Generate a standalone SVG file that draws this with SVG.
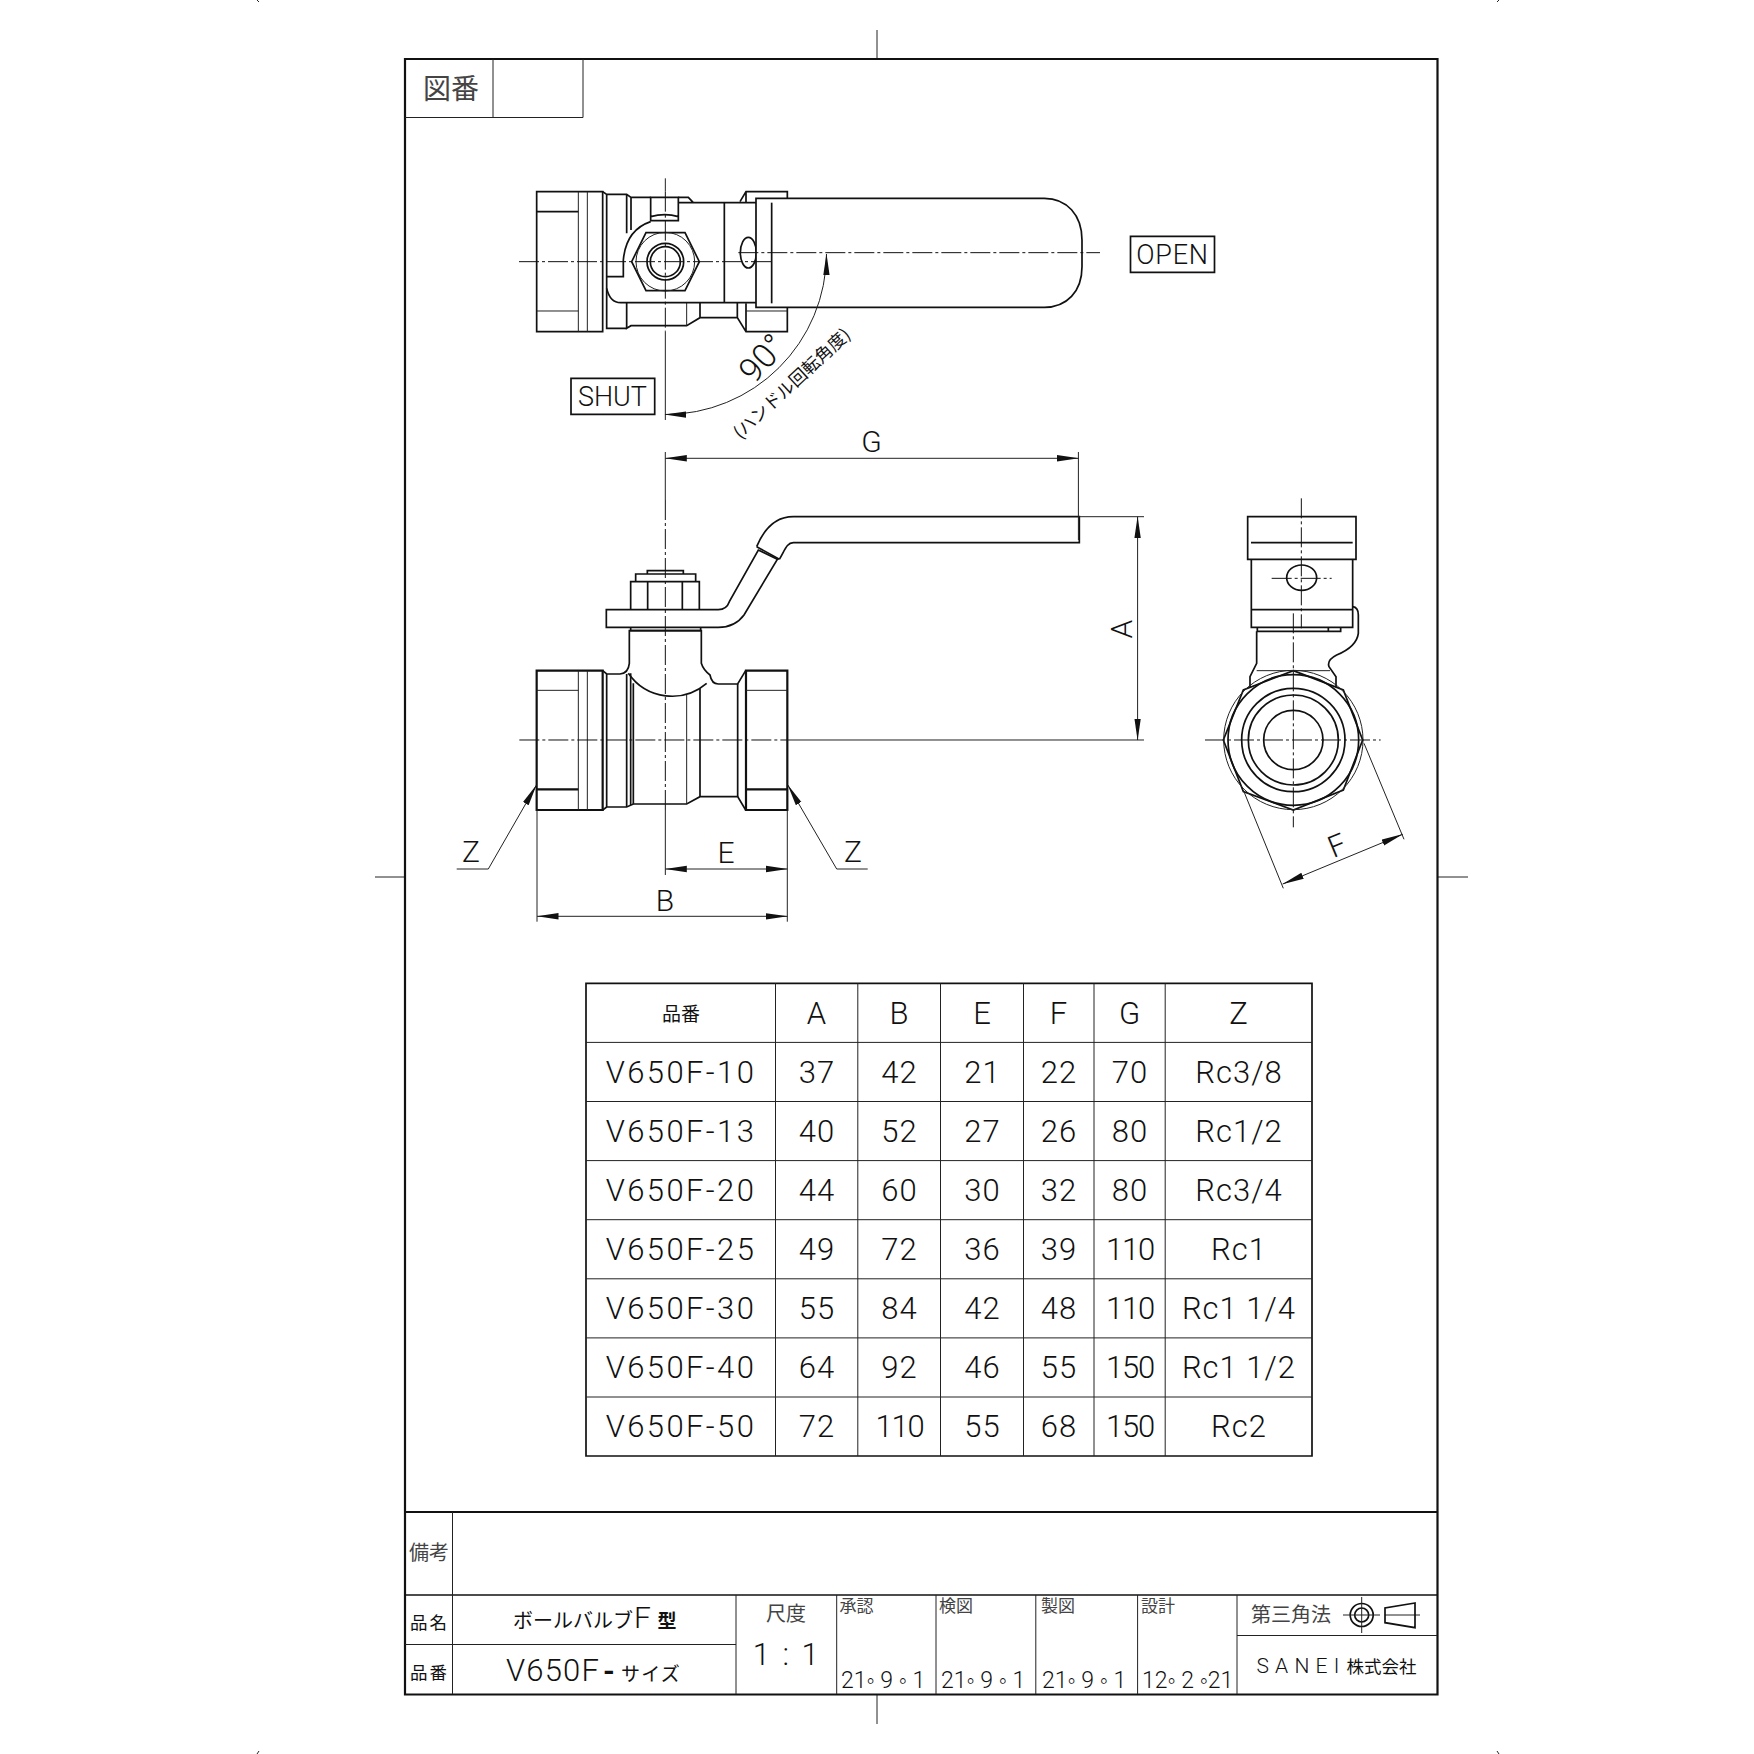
<svg xmlns="http://www.w3.org/2000/svg" width="1754" height="1754" viewBox="0 0 1754 1754">
<style>
.k{fill:none;stroke:#111;stroke-width:1.700;vector-effect:non-scaling-stroke}
.h{fill:none;stroke:#111;stroke-width:2.200;vector-effect:non-scaling-stroke}
.t{fill:none;stroke:#222;stroke-width:1;vector-effect:non-scaling-stroke}
.c{fill:none;stroke:#111;stroke-width:1;stroke-dasharray:20 3 3 3;vector-effect:non-scaling-stroke}
.w{fill:#fff}
.d{fill:none;stroke:#222;stroke-width:1;marker-start:url(#ar);marker-end:url(#ar)}
.e{fill:none;stroke:#222;stroke-width:1;marker-start:url(#ar)}
text{font-family:"Roboto","Liberation Sans","Noto Sans CJK JP",sans-serif;font-weight:300;fill:#111;text-anchor:middle}
.tb{font-size:31px;letter-spacing:1px}
.pn{letter-spacing:2.400px}
.nr{letter-spacing:-1.200px}
.lb{font-size:30px}
.jp{font-family:"Noto Sans CJK JP",sans-serif;font-weight:400}
.li{fill:#444}
.dt{font-size:23px;text-anchor:start}
.st{text-anchor:start}
</style>
<defs>
<marker id="ar" markerUnits="userSpaceOnUse" markerWidth="22" markerHeight="8" refX="21.5" refY="4" orient="auto-start-reverse" viewBox="0 0 22 8"><path d="M0 0.800L22 4L0 7.200Z" fill="#111"/></marker>
</defs>
<rect width="1754" height="1754" fill="#fff"/>
<g id="sheet">
<path class="t" d="M877 30V59M877 1695V1724M375 877H405M1437 877H1468"/>
<path class="t" d="M257 0L259 2M1497 2L1499 0M257 1754L259 1751M1497 1751L1499 1754"/>
<rect class="h" x="405" y="59" width="1032.500" height="1635.500"/>
<path class="t" d="M405 117.500H583V59M493 59V117.500"/>
<text class="jp li" x="451" y="99" font-size="28">図番</text>
</g>
<g id="top-view" transform="translate(530,180) scale(.33333)">
<path class="k" d="M20 35H218V455H20ZM20 95H145"/>
<path class="t" d="M20 393H145M145 35V455M172 35V455"/>
<path class="k" d="M218 35L230 43H290L303 52H362M230 43V445H290M290 43V160M303 52V150"/>
<path class="k" d="M290 368V445L303 437H470L510 413H622L648 455H772V380M648 370V455M510 368V413M622 368V413"/>
<path class="t" d="M470 368V437M648 393H772"/>
<path class="k" d="M630 65L648 35H772V55M648 35V68"/>
<path class="k" d="M230 290H280V240Q288 150 362 125"/>
<path class="k" d="M230 325Q240 368 272 368H678M445 68H678M445 52H475L490 68"/>
<path class="k" d="M362 52H445V122H362ZM362 110Q405 98 445 110"/>
<path class="k" d="M583 68V368"/>
<path class="k" d="M348 158H465L508 245L465 332H348L305 245Z"/>
<circle class="t" cx="406" cy="245" r="88"/>
<circle class="k" cx="406" cy="245" r="55"/>
<circle class="k" cx="406" cy="245" r="45"/>
<ellipse class="k" cx="655" cy="218" rx="24" ry="46"/>
<path class="k w" d="M678 55H1543C1610 55 1656 105 1656 180V260C1656 335 1610 382 1543 382H678Z"/>
<path class="k" d="M725 68V370"/>
<path class="t" d="M406 -5V35M406 455V720"/>
<path class="c" d="M406 35V455"/>
<path class="c" d="M-33 245H730"/>
<path class="c" d="M625 218H1710"/>
</g>
<g id="front-view" transform="translate(440,500) scale(.33333)">
<path class="h" d="M290 512H488V930H290ZM918 512H1042V930H918Z"/>
<path class="h" d="M290 868H415M918 868H1042"/>
<path class="t" d="M290 571H415M918 571H1042M415 512V930M442 512V930"/>
<path class="k" d="M488 512L500 522H540Q565 520 568 490V392H784V490Q790 510 810 525Q815 552 835 552H893L917 512"/>
<path class="k" d="M488 930L500 921H560L580 912H740L780 890H893L917 930"/>
<path class="k" d="M500 522V921M560 522V921M572 520V915M580 550V912M780 565V890M893 552V890"/>
<path class="t" d="M740 585V912"/>
<path class="k" d="M565 520C620 600 730 610 800 550"/>
<path class="k" d="M572 382V392H782V382"/>
<path class="k w" d="M835 329Q860 328 868 305L955 150L1012 178L912 345Q885 382 835 382H499V329Z"/>
<path class="k" d="M950 140L1018 178"/>
<path class="k" d="M950 140C975 80 1010 50 1060 50H1918V128H1060C1040 128 1035 150 1018 178"/>
<path class="k" d="M572 329V245H778V329M623 245V329M727 245V329M587 245V222H767V245M622 222V212H730V222"/>
<path class="c" d="M676 0V930"/>
<path class="t" d="M676 930V1125"/>
<path class="c" d="M238 720H1042"/>
<path class="t" d="M1042 720H2112"/>
</g>
<g id="side-view" transform="translate(1180,490) scale(.33333)">
<path class="k" d="M203 80H528V208H203Z"/>
<path class="k" d="M213 158H518"/>
<path class="k" d="M214 208V412H518V208M214 359H518"/>
<ellipse class="k" cx="365" cy="263" rx="45" ry="38"/>
<path class="k" d="M232 414V424H482V414M445 414V424"/>
<path class="k" d="M230 424V520L210 560V592M518 350Q535 352 535 375V430Q530 470 470 495Q440 510 447 530L468 560V592"/>
<path class="t" d="M230 542H450"/>
<path class="k" d="M340 542L490 600L548 750L490 900L340 960L190 905L130 750L190 600Z"/>
<circle class="t" cx="340" cy="750" r="209"/>
<circle class="k" cx="340" cy="750" r="196"/>
<circle class="k" cx="340" cy="750" r="155"/>
<circle class="k" cx="340" cy="750" r="135"/>
<circle class="k" cx="340" cy="750" r="89"/>
<path class="c" d="M364 25V415"/>
<path class="c" d="M275 265H455"/>
<path class="c" d="M340 370V1012"/>
<path class="c" d="M75 750H602"/>
</g>
<g id="dimensions">
<path class="t" d="M665.300 452V500M1078.400 452V540M1079 516.700H1144M537 810V921.700M787.300 810V921.700"/>
<path class="d" d="M665.300 458.300H1078.400"/>
<path class="d" d="M1137.600 516.700V740"/>
<path class="d" d="M665.300 869H787.300"/>
<path class="d" d="M537 916.300H787.300"/>
<path class="d" d="M665 414.500A161 161 0 0 0 826.500 254"/>
<path class="e" d="M536.500 785L488.300 869H456.700"/>
<path class="e" d="M787.800 785L836.700 869H867.700"/>
<path class="t" d="M1243.300 790L1283.300 888.300M1364 743.300L1404 839.300"/>
<path class="d" d="M1282.700 884L1402.700 834.300"/>
</g>
<g id="dim-labels">
<text class="lb" x="871.500" y="452">G</text>
<text class="lb" x="726" y="863">E</text>
<text class="lb" x="665" y="911">B</text>
<text class="lb" x="471" y="862">Z</text>
<text class="lb" x="853" y="862">Z</text>
<text class="lb" transform="translate(1132,629) rotate(-90)">A</text>
<text class="lb" transform="translate(1341,855) rotate(-22.500)">F</text>
<text transform="translate(771,366) rotate(-48)" font-size="34">90°</text>
<text class="jp" transform="translate(796,388) rotate(-43)" font-size="17.500">(ハンドル回転角度)</text>
</g>
<g id="shut"><rect class="k" x="571" y="378.300" width="83.700" height="36"/><text x="612.500" y="406" font-size="27">SHUT</text></g>
<g id="open"><rect class="k" x="1130.500" y="236.300" width="84" height="36"/><text x="1172.500" y="264" font-size="27" letter-spacing=".8">OPEN</text></g>
<g id="table">
<path class="k" d="M586 983.300H1312V1456H586Z"/>
<path class="t" d="M775.500 983.300V1456M857.800 983.300V1456M940.500 983.300V1456M1023.500 983.300V1456M1094 983.300V1456M1165.200 983.300V1456M586 1042.400H1312M586 1101.500H1312M586 1160.600H1312M586 1219.700H1312M586 1278.800H1312M586 1337.900H1312M586 1397H1312"/>
<g class="tb">
<text class="jp" x="681" y="1021" font-size="19" font-weight="700" style="letter-spacing:0">品番</text>
<text x="817" y="1024">A</text><text x="899.500" y="1024">B</text><text x="982.500" y="1024">E</text><text x="1059" y="1024">F</text><text x="1130" y="1024">G</text><text x="1239" y="1024">Z</text>
<text class="pn" x="681" y="1083">V650F-10</text><text x="817" y="1083">37</text><text x="899.500" y="1083">42</text><text x="982.500" y="1083">21</text><text x="1059" y="1083">22</text><text x="1130" y="1083">70</text><text x="1239" y="1083">Rc3/8</text>
<text class="pn" x="681" y="1142">V650F-13</text><text x="817" y="1142">40</text><text x="899.500" y="1142">52</text><text x="982.500" y="1142">27</text><text x="1059" y="1142">26</text><text x="1130" y="1142">80</text><text x="1239" y="1142">Rc1/2</text>
<text class="pn" x="681" y="1201">V650F-20</text><text x="817" y="1201">44</text><text x="899.500" y="1201">60</text><text x="982.500" y="1201">30</text><text x="1059" y="1201">32</text><text x="1130" y="1201">80</text><text x="1239" y="1201">Rc3/4</text>
<text class="pn" x="681" y="1260">V650F-25</text><text x="817" y="1260">49</text><text x="899.500" y="1260">72</text><text x="982.500" y="1260">36</text><text x="1059" y="1260">39</text><text class="nr" x="1130" y="1260">110</text><text x="1239" y="1260">Rc1</text>
<text class="pn" x="681" y="1319">V650F-30</text><text x="817" y="1319">55</text><text x="899.500" y="1319">84</text><text x="982.500" y="1319">42</text><text x="1059" y="1319">48</text><text class="nr" x="1130" y="1319">110</text><text x="1239" y="1319">Rc1 1/4</text>
<text class="pn" x="681" y="1378">V650F-40</text><text x="817" y="1378">64</text><text x="899.500" y="1378">92</text><text x="982.500" y="1378">46</text><text x="1059" y="1378">55</text><text class="nr" x="1130" y="1378">150</text><text x="1239" y="1378">Rc1 1/2</text>
<text class="pn" x="681" y="1437">V650F-50</text><text x="817" y="1437">72</text><text class="nr" x="899.500" y="1437">110</text><text x="982.500" y="1437">55</text><text x="1059" y="1437">68</text><text class="nr" x="1130" y="1437">150</text><text x="1239" y="1437">Rc2</text>
</g>
</g>
<g id="title-block">
<path class="h" d="M405 1512H1437"/>
<path class="k" d="M405 1595H1437"/>
<path class="t" d="M452.500 1512V1694M736 1595V1694M836.700 1595V1694M936 1595V1694M1035.800 1595V1694M1137.600 1595V1694M1237 1595V1694M405 1644.500H736M1237 1635.500H1437"/>
<text class="jp li" x="429" y="1560" font-size="20">備考</text>
<text class="jp" x="429.500" y="1629" font-size="17.500" letter-spacing="2">品名</text>
<text class="jp" x="429.500" y="1679" font-size="17.500" letter-spacing="2">品番</text>
<text class="jp st" x="513" y="1628" font-size="20">ボールバルブ<tspan x="634" font-family="Roboto" font-size="30" font-weight="300">F</tspan><tspan x="657.500" font-size="19" font-weight="700">型</tspan></text>
<text class="st" x="506" y="1681" font-size="31" letter-spacing="1.200">V650F<tspan x="603" font-size="30" font-weight="700">-</tspan><tspan class="jp" x="621" font-size="19">サイズ</tspan></text>
<text class="jp li" x="786" y="1621" font-size="20">尺度</text>
<text x="787" y="1665" font-size="31" letter-spacing="2.500">1 : 1</text>
<text class="jp li" x="856.500" y="1612" font-size="17">承認</text>
<text class="jp li" x="956" y="1612" font-size="17">検図</text>
<text class="jp li" x="1058" y="1612" font-size="17">製図</text>
<text class="jp li" x="1158" y="1612" font-size="17">設計</text>
<text class="dt" x="841" y="1688">21◦ 9 ◦ 1</text>
<text class="dt" x="941" y="1688">21◦ 9 ◦ 1</text>
<text class="dt" x="1042" y="1688">21◦ 9 ◦ 1</text>
<text class="dt" x="1142" y="1688">12◦ 2 ◦21</text>
<text class="jp li" x="1291" y="1622" font-size="20">第三角法</text>
<g id="third-angle-symbol"><circle class="k" cx="1361.700" cy="1615" r="11.500"/><circle class="k" cx="1361.700" cy="1615" r="7"/><path class="t" d="M1343 1615H1380M1361.700 1597V1633M1385 1615H1420"/><path class="k" d="M1415 1603L1385 1608V1622.700L1415 1627.700Z"/></g>
<text x="1301" y="1673" font-size="21" font-weight="400" letter-spacing="6.200">SANEI</text>
<text class="jp" x="1381.500" y="1673" font-size="17.500" font-weight="700">株式会社</text>
</g>
</svg>
